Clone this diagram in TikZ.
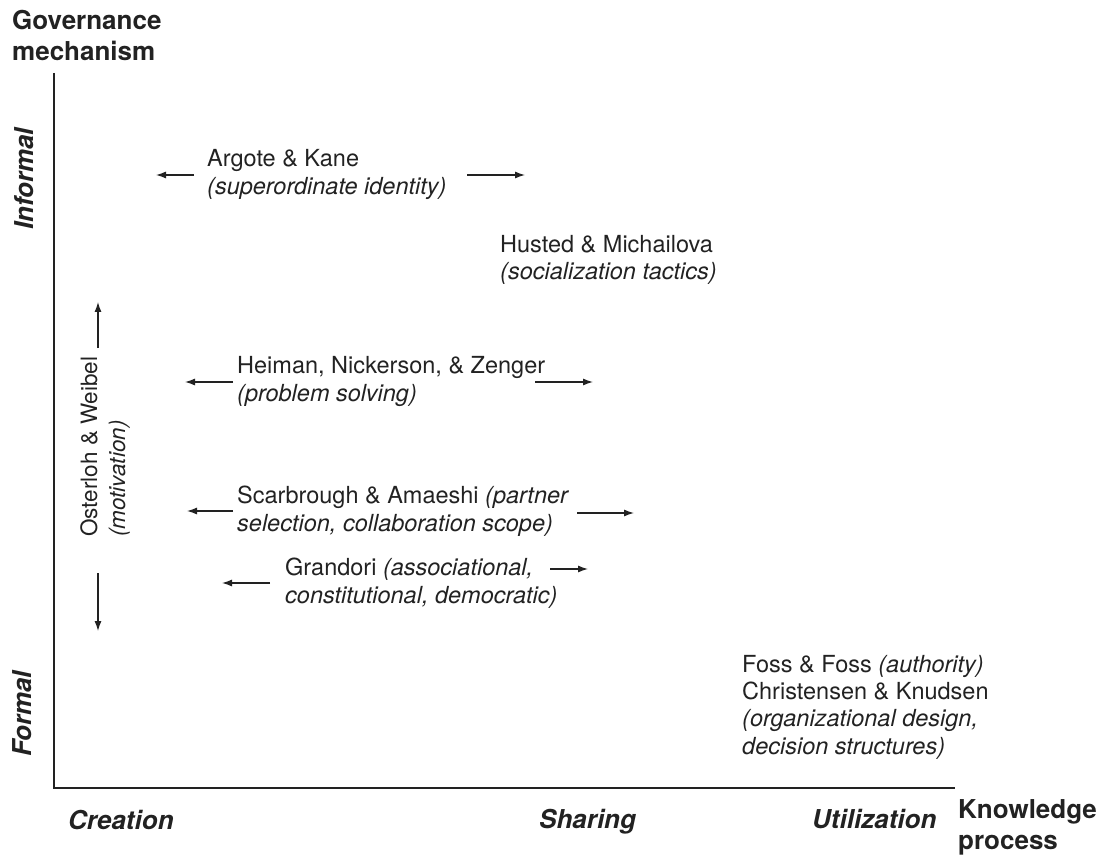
\documentclass[tikz,border=0pt]{standalone}
\usepackage{fontspec}
\setmainfont{TeX Gyre Heros}
\usetikzlibrary{arrows.meta}
\definecolor{ink}{HTML}{222222}
\begin{document}
\begin{tikzpicture}[x=1pt,y=-1pt,
  every node/.style={inner sep=0pt,text=ink},
  % multi-line nodes are placed by the baseline of their last line
  entry/.style={anchor=base west,align=left,font={\fontsize{23.5}{28}\selectfont}},
  axistitle/.style={anchor=base west,align=left,font={\fontsize{26}{31}\selectfont\bfseries}},
  stage/.style={anchor=base west,font={\fontsize{26}{31}\selectfont\bfseries\itshape}},
  level/.style={anchor=base,rotate=90,font={\fontsize{26}{31}\selectfont\bfseries\itshape}},
  axisline/.style={draw=ink,line width=1.4pt},
  push/.style={draw=ink,line width=1.2pt,-{Latex[length=10pt,width=7pt]}}]
\useasboundingbox (0,0) rectangle (1110,858);

% axes
\coordinate (ytop) at (54,73);
\coordinate (origin) at (54,788);
\coordinate (xend) at (955,788);
\draw[axisline] (ytop) -- (origin) -- (xend);

% axis titles
\node[axistitle] (gov) at (12,61) {Governance\\mechanism};
\node[axistitle] (kp) at (958,849) {Knowledge\\process};

% levels of the governance axis
\node[level] (informal) at (33,179) {Informal};
\node[level] (formal) at (31,714) {Formal};

% stages of the knowledge process
\node[stage] (creation) at (68,829) {Creation};
\node[stage] (sharing) at (539,828) {Sharing};
\node[stage] (utilization) at (812,828) {Utilization};

% studies
\node[entry] (ak) at (207,195) {Argote \& Kane\\\textit{(superordinate identity)}};
\node[entry] (hm) at (500,280) {Husted \& Michailova\\\textit{(socialization tactics)}};
\node[entry] (hnz) at (237,401) {Heiman, Nickerson, \& Zenger\\\textit{(problem solving)}};
\node[entry] (sa) at (237,531) {Scarbrough \& Amaeshi \textit{(partner}\\\textit{selection, collaboration scope)}};
\node[entry] (gr) at (285,603) {Grandori \textit{(associational,}\\\textit{constitutional, democratic)}};
\node[entry,font={\fontsize{23.5}{27.3}\selectfont}] (ff) at (742,754) {Foss \& Foss \textit{(authority)}\\Christensen \& Knudsen\\\textit{(organizational design,}\\\textit{decision structures)}};
\node[entry,rotate=90,font={\fontsize{22.5}{28}\selectfont}] (ow) at (125,537) {Osterloh \& Weibel\\\textit{(motivation)}};

% ranges along the axes
\coordinate (ak-l0) at (194,175); \coordinate (ak-l1) at (156,175);
\coordinate (ak-r0) at (467,175); \coordinate (ak-r1) at (525,175);
\coordinate (hnz-l0) at (233,382); \coordinate (hnz-l1) at (185,382);
\coordinate (hnz-r0) at (535,382); \coordinate (hnz-r1) at (593,382);
\coordinate (sa-l0) at (233,511); \coordinate (sa-l1) at (187,511);
\coordinate (sa-r0) at (577,513); \coordinate (sa-r1) at (634,513);
\coordinate (gr-l0) at (270,583); \coordinate (gr-l1) at (222,583);
\coordinate (gr-r0) at (550,569); \coordinate (gr-r1) at (588,569);
\coordinate (ow-u0) at (98,348); \coordinate (ow-u1) at (98,302);
\coordinate (ow-d0) at (98,573); \coordinate (ow-d1) at (98,631);

\draw[push] (ak-l0) -- (ak-l1);
\draw[push] (ak-r0) -- (ak-r1);
\draw[push] (hnz-l0) -- (hnz-l1);
\draw[push] (hnz-r0) -- (hnz-r1);
\draw[push] (sa-l0) -- (sa-l1);
\draw[push] (sa-r0) -- (sa-r1);
\draw[push] (gr-l0) -- (gr-l1);
\draw[push] (gr-r0) -- (gr-r1);
\draw[push] (ow-u0) -- (ow-u1);
\draw[push] (ow-d0) -- (ow-d1);
\end{tikzpicture}
\end{document}
